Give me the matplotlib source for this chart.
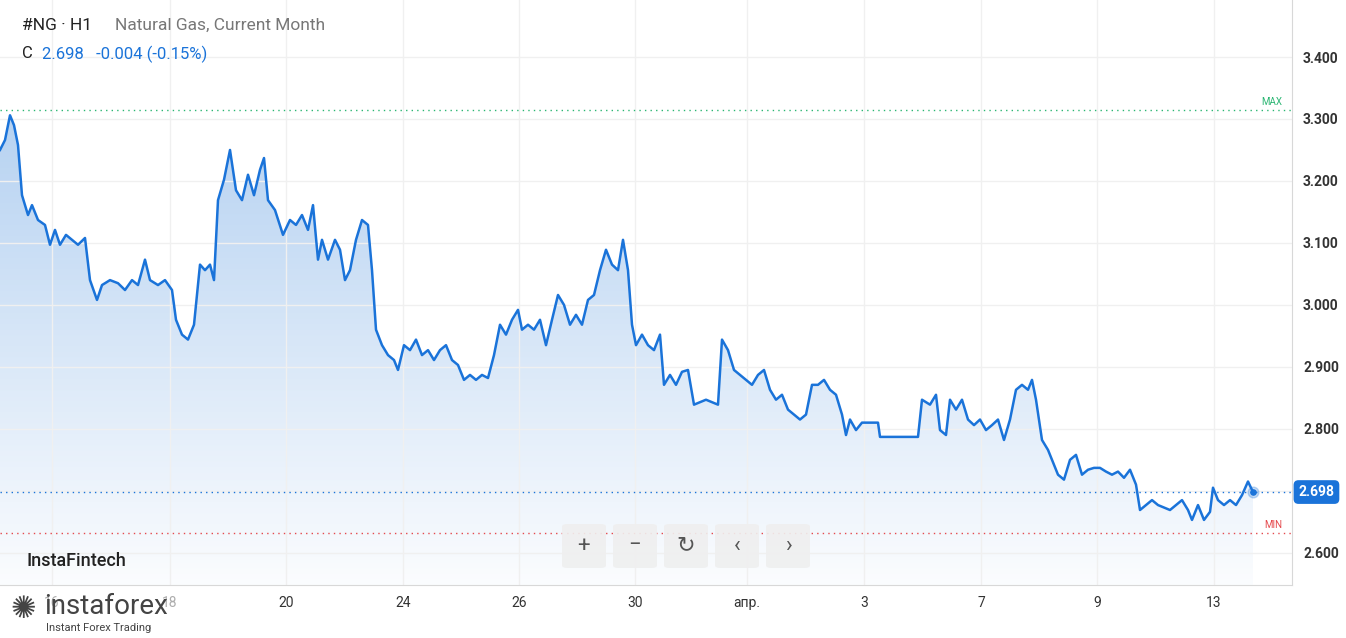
import matplotlib
matplotlib.use("Agg")
import matplotlib.pyplot as plt
import numpy as np
from matplotlib.patches import FancyBboxPatch, Rectangle

# time position of each hourly sample (chart units) and close price
t = [0, 5, 10, 14, 18, 22, 28, 32, 38, 45, 50, 55, 60, 66, 72, 78, 85, 90, 97, 102,
     110, 118, 125, 132, 138, 145, 150, 158, 165, 172, 176, 182, 188, 194, 200, 205, 210, 214, 218, 224,
     230, 236, 242, 248, 254, 260, 264, 268, 275, 283, 290, 296, 302, 308, 313, 318, 322, 328, 335, 340,
     345, 350, 356, 362, 368, 372, 376, 382, 388, 394, 398, 404, 410, 416, 422, 428, 434, 440, 446, 452,
     458, 464, 470, 476, 482, 488, 494, 500, 506, 512, 518, 522, 528, 534, 540, 546, 552, 558, 564, 570,
     576, 582, 588, 594, 600, 606, 612, 618, 623, 628, 632, 636, 642, 648, 654, 660, 664, 670, 676, 682,
     688, 694, 700, 706, 712, 718, 722, 728, 734, 740, 746, 752, 758, 764, 770, 776, 782, 788, 794, 800,
     806, 812, 818, 824, 830, 836, 842, 846, 850, 856, 862, 870, 878, 880, 900, 918, 922, 930, 936, 940,
     946, 950, 956, 962, 968, 974, 980, 986, 992, 998, 1004, 1010, 1016, 1022, 1028, 1032, 1036, 1042, 1048, 1054,
     1058, 1064, 1070, 1076, 1082, 1088, 1094, 1100, 1106, 1112, 1118, 1124, 1130, 1136, 1140, 1146, 1152, 1158, 1164, 1170,
     1176, 1182, 1188, 1192, 1198, 1204, 1210, 1213, 1218, 1224, 1230, 1236, 1242, 1248, 1253]
price = [3.250, 3.266, 3.306, 3.290, 3.258, 3.177, 3.145, 3.161, 3.137, 3.129, 3.097, 3.121, 3.097, 3.113, 3.105, 3.097, 3.108, 3.040, 3.008, 3.032,
         3.040, 3.035, 3.024, 3.040, 3.032, 3.073, 3.040, 3.032, 3.040, 3.024, 2.976, 2.952, 2.944, 2.968, 3.065, 3.056, 3.065, 3.040, 3.169, 3.202,
         3.250, 3.185, 3.169, 3.210, 3.177, 3.218, 3.237, 3.169, 3.153, 3.113, 3.137, 3.129, 3.145, 3.121, 3.161, 3.073, 3.105, 3.073, 3.105, 3.089,
         3.040, 3.056, 3.105, 3.137, 3.129, 3.056, 2.960, 2.935, 2.919, 2.911, 2.895, 2.935, 2.927, 2.944, 2.919, 2.927, 2.911, 2.927, 2.935, 2.911,
         2.903, 2.879, 2.887, 2.879, 2.887, 2.882, 2.919, 2.968, 2.952, 2.976, 2.992, 2.960, 2.968, 2.960, 2.976, 2.935, 2.976, 3.016, 3.000, 2.968,
         2.984, 2.968, 3.008, 3.016, 3.056, 3.089, 3.065, 3.056, 3.105, 3.056, 2.968, 2.935, 2.952, 2.935, 2.927, 2.952, 2.871, 2.887, 2.871, 2.892,
         2.895, 2.839, 2.843, 2.847, 2.843, 2.839, 2.944, 2.927, 2.895, 2.887, 2.879, 2.871, 2.887, 2.895, 2.863, 2.847, 2.855, 2.831, 2.823, 2.815,
         2.823, 2.871, 2.871, 2.879, 2.863, 2.855, 2.823, 2.790, 2.815, 2.798, 2.810, 2.810, 2.810, 2.787, 2.787, 2.787, 2.847, 2.839, 2.855, 2.798,
         2.790, 2.847, 2.831, 2.847, 2.815, 2.806, 2.815, 2.798, 2.806, 2.815, 2.782, 2.815, 2.863, 2.871, 2.863, 2.879, 2.847, 2.782, 2.766, 2.742,
         2.726, 2.718, 2.750, 2.758, 2.726, 2.734, 2.737, 2.737, 2.731, 2.726, 2.731, 2.721, 2.734, 2.710, 2.669, 2.677, 2.685, 2.677, 2.673, 2.669,
         2.677, 2.685, 2.669, 2.653, 2.677, 2.653, 2.666, 2.705, 2.685, 2.677, 2.685, 2.677, 2.693, 2.715, 2.698]

tick_pos = [52, 170, 286, 403, 519, 635, 747, 864, 981, 1097, 1214]
tick_labels = ["16", "18", "20", "24", "26", "30", "апр.", "3", "7", "9", "13"]
y_ticks = [2.6, 2.7, 2.8, 2.9, 3.0, 3.1, 3.2, 3.3, 3.4]
max_price, min_price, last_price = 3.315, 2.632, 2.698

plt.rcParams["font.family"] = ["Roboto", "DejaVu Sans"]
fig = plt.figure(figsize=(13.46, 6.38), dpi=100)
ax = fig.add_axes([0, 1 - 585 / 638, 1292 / 1346, 585 / 638])
ylo, yhi = 2.548, 3.492
ax.set_xlim(0, 1292)
ax.set_ylim(ylo, yhi)

# gradient fill under line
grad = np.linspace(0.02, 0.35, 256).reshape(-1, 1)
cmap = matplotlib.colors.LinearSegmentedColormap.from_list("g", ["#ffffff", "#2f7fd8"])
im = ax.imshow(grad, extent=[0, 1292, ylo, max(price)], origin="lower", aspect="auto",
               cmap=cmap, vmin=0, vmax=1, zorder=1)
poly = ax.fill_between(t, price, ylo, color="none")
im.set_clip_path(poly.get_paths()[0], transform=ax.transData)
ax.plot(t, price, color="#1a73d9", lw=1.8, zorder=3)
ax.scatter([t[-1]], [price[-1]], s=60, color="#1a73d9", alpha=0.25, zorder=4)
ax.scatter([t[-1]], [price[-1]], s=14, color="#1a73d9", zorder=5)

ax.axhline(max_price, color="#2bb673", ls=(0, (1, 3)), lw=1)
ax.axhline(min_price, color="#e5494d", ls=(0, (1, 3)), lw=1)
ax.axhline(last_price, color="#1a73d9", ls=(0, (1, 3)), lw=1)
ax.text(1282, max_price + 0.004, "MAX", color="#2bb673", fontsize=7, ha="right", va="bottom")
ax.text(1282, min_price + 0.004, "MIN", color="#e5494d", fontsize=7, ha="right", va="bottom")

ax.set_xticks(tick_pos)
ax.set_xticklabels(tick_labels)
ax.set_yticks(y_ticks)
# the 2.700 label sits under the last-price badge
ax.set_yticklabels(["" if abs(v - 2.7) < 1e-9 else f"{v:.3f}" for v in y_ticks])
ax.yaxis.tick_right()
ax.tick_params(length=0, labelsize=10, colors="#333333", pad=8)
ax.grid(color="#f0f0f0", lw=1)
for s in ["top", "left"]:
    ax.spines[s].set_visible(False)
for s in ["right", "bottom"]:
    ax.spines[s].set_color("#d8d8d8")
for lbl in ax.get_yticklabels():
    lbl.set_fontweight("bold")

ax.text(1.005, (last_price - ylo) / (yhi - ylo), "2.698", transform=ax.transAxes, color="white",
        fontsize=10, fontweight="bold", va="center", ha="left",
        bbox=dict(boxstyle="round,pad=0.35", fc="#1a73d9", ec="none"))

fig.text(22 / 1346, 1 - 25 / 638, "#NG · H1", fontsize=12.5, color="#222222", va="center")
fig.text(115 / 1346, 1 - 25 / 638, "Natural Gas, Current Month", fontsize=12.5, color="#777777", va="center")
fig.text(22 / 1346, 1 - 54 / 638, "C", fontsize=12, color="#222222", va="center")
fig.text(42 / 1346, 1 - 54 / 638, "2.698   -0.004 (-0.15%)", fontsize=12, color="#1a73d9", va="center")
fig.text(26 / 1346, 1 - 561 / 638, "InstaFintech", fontsize=13, color="#222222", va="center", fontweight="medium")

# navigation buttons
for i, sym in enumerate(["+", "−", "↻", "‹", "›"]):
    x0 = 562 + i * 51
    b = FancyBboxPatch((x0 / 1346, 1 - 568 / 638), 44 / 1346, 44 / 638, transform=fig.transFigure,
                       boxstyle="round,pad=0,rounding_size=0.004", fc="#efefef", ec="none", alpha=0.9)
    fig.add_artist(b)
    fig.text((x0 + 22) / 1346, 1 - 546 / 638, sym, fontsize=16, color="#555555", ha="center", va="center")

# logo
fig.add_artist(Rectangle((0, 0), 178 / 1346, 44 / 638, transform=fig.transFigure, fc="#ffffff", ec="none", alpha=0.6))
fig.text(10 / 1346, 1 - 610 / 638, "✺", fontsize=22, color="#444444", va="center")
fig.text(44 / 1346, 1 - 606 / 638, "instaforex", fontsize=20, color="#444444", va="center")
fig.text(46 / 1346, 1 - 628 / 638, "Instant Forex Trading", fontsize=8, color="#444444", va="center")

fig.savefig("out.png", dpi=100)
